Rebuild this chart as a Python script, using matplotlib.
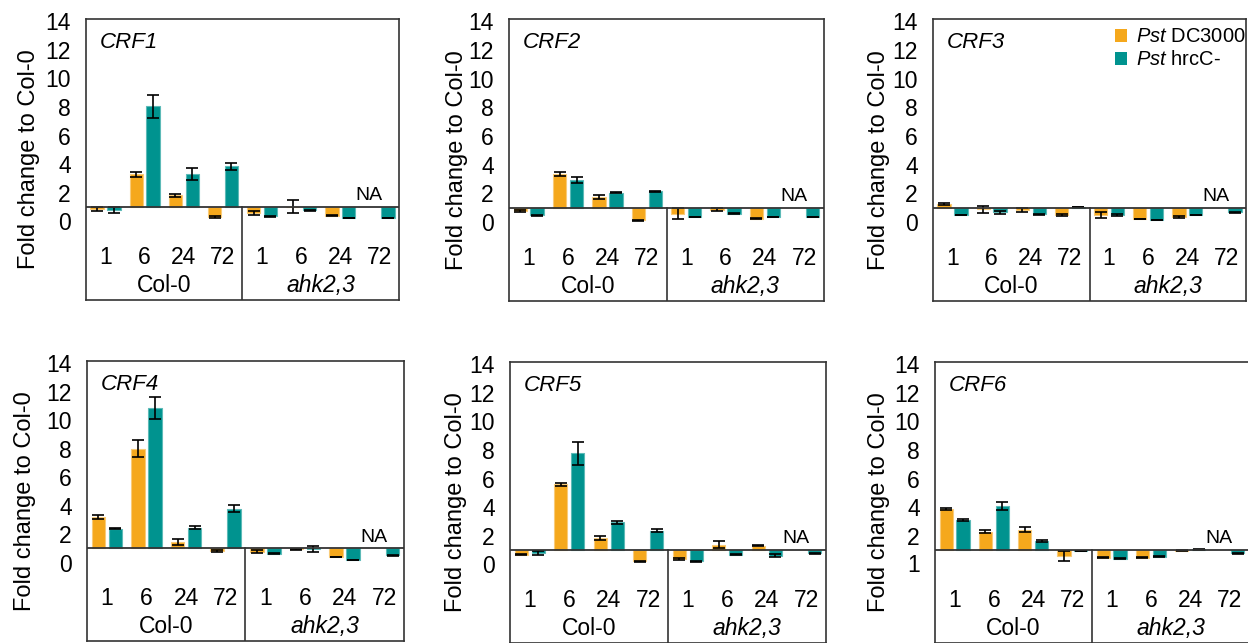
import numpy as np
import matplotlib
matplotlib.use("Agg")
import matplotlib.pyplot as plt

plt.rcParams['font.family'] = ['Liberation Sans', 'DejaVu Sans']
plt.rcParams['mathtext.fontset'] = 'custom'
plt.rcParams['mathtext.rm'] = 'Liberation Sans'
plt.rcParams['mathtext.it'] = 'Liberation Sans:italic'

# categories
hours = ['1', '6', '24', '72', '1', '6', '24', '72']
groups = ['Col-0', 'ahk2,3']
genes = ['CRF1', 'CRF2', 'CRF3', 'CRF4', 'CRF5', 'CRF6']

# fold change (nan = NA) and error, Pst DC3000 / Pst hrcC-
dc_crf1 = [0.86, 3.28, 1.82, 0.30, 0.58, 1.02, 0.39, np.nan]
dc_crf1_err = [0.12, 0.18, 0.12, 0.04, 0.12, 0.45, 0.03, 0]
hr_crf1 = [0.77, 8.04, 3.32, 3.86, 0.34, 0.77, 0.23, 0.23]
hr_crf1_err = [0.2, 0.8, 0.4, 0.25, 0.02, 0.03, 0.02, 0.02]

dc_crf2 = [0.76, 3.33, 1.75, 0.11, 0.58, 0.86, 0.22, np.nan]
dc_crf2_err = [0.05, 0.15, 0.12, 0.02, 0.4, 0.12, 0.03, 0]
hr_crf2 = [0.46, 2.93, 2.06, 2.15, 0.34, 0.58, 0.34, 0.34]
hr_crf2_err = [0.05, 0.2, 0.06, 0.03, 0.02, 0.03, 0.02, 0.02]

dc_crf3 = [1.26, 0.90, 0.84, 0.49, 0.49, 0.21, 0.37, np.nan]
dc_crf3_err = [0.1, 0.25, 0.15, 0.1, 0.2, 0.03, 0.08, 0]
hr_crf3 = [0.49, 0.67, 0.53, 1.05, 0.49, 0.14, 0.49, 0.67]
hr_crf3_err = [0.03, 0.1, 0.03, 0.02, 0.08, 0.03, 0.03, 0.05]

dc_crf4 = [3.19, 8.00, 1.47, 0.81, 0.77, 0.93, 0.39, np.nan]
dc_crf4_err = [0.12, 0.6, 0.2, 0.05, 0.1, 0.05, 0.03, 0]
hr_crf4 = [2.38, 10.85, 2.45, 3.78, 0.63, 0.98, 0.18, 0.51]
hr_crf4_err = [0.02, 0.8, 0.1, 0.25, 0.03, 0.2, 0.03, 0.03]

dc_crf5 = [0.67, 5.60, 1.84, 0.21, 0.37, 1.37, 1.30, np.nan]
dc_crf5_err = [0.05, 0.12, 0.15, 0.02, 0.08, 0.25, 0.05, 0]
hr_crf5 = [0.77, 7.77, 2.93, 2.35, 0.21, 0.67, 0.60, 0.77]
hr_crf5_err = [0.15, 0.8, 0.1, 0.1, 0.02, 0.03, 0.1, 0.05]

dc_crf6 = [3.89, 2.27, 2.43, 0.58, 0.47, 0.47, 0.95, np.nan]
dc_crf6_err = [0.08, 0.1, 0.2, 0.35, 0.05, 0.05, 0.02, 0]
hr_crf6 = [3.12, 4.09, 1.62, 0.93, 0.40, 0.54, 1.05, 0.77]
hr_crf6_err = [0.08, 0.3, 0.07, 0.02, 0.03, 0.03, 0.02, 0.05]

dc_all = [dc_crf1, dc_crf2, dc_crf3, dc_crf4, dc_crf5, dc_crf6]
dc_err_all = [dc_crf1_err, dc_crf2_err, dc_crf3_err, dc_crf4_err, dc_crf5_err, dc_crf6_err]
hr_all = [hr_crf1, hr_crf2, hr_crf3, hr_crf4, hr_crf5, hr_crf6]
hr_err_all = [hr_crf1_err, hr_crf2_err, hr_crf3_err, hr_crf4_err, hr_crf5_err, hr_crf6_err]

yticks = [0, 2, 4, 6, 8, 10, 12, 14]
ytick_labels = ['0', '2', '4', '6', '8', '10', '12', '14']
yticks_crf6 = [0.1, 2, 4, 6, 8, 10, 12, 14]
ytick_labels_crf6 = ['1', '2', '4', '6', '8', '10', '12', '14']

orange = '#F5A81C'
teal = '#00938F'
edge_o = '#F9CB78'
edge_t = '#5CBAB7'
frame = '#333333'

W, H = 1248, 643
# frames in pixels: left, top, right, bottom
boxes = [(86, 19, 399, 300), (509, 19, 824, 301), (933, 19, 1246, 301),
         (87, 361, 404, 641), (510, 362, 826, 643), (935, 362, 1249, 643)]
ylab_x = [29, 457, 879, 25, 456, 879]
base = 1.0
ylo, yhi = -5.5, 14.15

fig = plt.figure(figsize=(W / 100, H / 100), dpi=100)

x = np.arange(len(hours))
bw = 0.34
off = 0.215

for i, g in enumerate(genes):
    l, t, r, b = boxes[i]
    ax = fig.add_axes([l / W, 1 - b / H, (r - l) / W, (b - t) / H])
    dc = np.array(dc_all[i])
    hr = np.array(hr_all[i])
    ax.bar(x - off, dc - base, bw, bottom=base, color=orange, edgecolor=edge_o, lw=0.8, zorder=2)
    ax.bar(x + off, hr - base, bw, bottom=base, color=teal, edgecolor=edge_t, lw=0.8, zorder=2)
    ok = ~np.isnan(dc)
    ax.errorbar((x - off)[ok], dc[ok], yerr=np.array(dc_err_all[i])[ok], fmt='none',
                ecolor='black', elinewidth=1.2, capsize=4, capthick=1.2, zorder=3)
    ax.errorbar(x + off, hr, yerr=hr_err_all[i], fmt='none',
                ecolor='black', elinewidth=1.2, capsize=4, capthick=1.2, zorder=3)
    for k in np.where(~ok)[0]:
        ax.text(x[k] - 0.27, base + 0.2, 'NA', ha='center', va='bottom', fontsize=14)

    ax.axhline(base, color=frame, lw=1.3, zorder=4)
    ax.plot([3.5, 3.5], [ylo, base], color=frame, lw=1.2, zorder=4)
    ax.set_xlim(-0.5, 7.5)
    ax.set_ylim(ylo, yhi)
    ax.set_xticks([])
    if g == 'CRF6':
        ax.set_yticks(yticks_crf6, ytick_labels_crf6)
    else:
        ax.set_yticks(yticks, ytick_labels)
    ax.tick_params(axis='y', length=0, pad=11, labelsize=16.5)
    for s in ax.spines.values():
        s.set_color(frame)
        s.set_linewidth(1.2)
    fig.text(ylab_x[i] / W, 1 - (t + b) / 2 / H, 'Fold change to Col-0', rotation=90,
             ha='center', va='center', fontsize=17)

    for k, h in enumerate(hours):
        ax.text(x[k], -2.55, h, ha='center', va='center', fontsize=16.5)
    ax.text(1.5, -4.5, groups[0], ha='center', va='center', fontsize=16.5)
    ax.text(5.5, -4.5, groups[1], ha='center', va='center', fontsize=16.5, style='italic')
    ax.text(0.045, 0.955, g, transform=ax.transAxes, ha='left', va='top',
            fontsize=16, style='italic')

    if g == 'CRF3':
        ax.bar([np.nan], [np.nan], color=orange, label='$\\it{Pst}$ DC3000')
        ax.bar([np.nan], [np.nan], color=teal, label='$\\it{Pst}$ hrcC-')
        ax.legend(loc='upper right', bbox_to_anchor=(1.0, 0.97), frameon=False, fontsize=14.5,
                  handlelength=0.6, handleheight=0.6, handletextpad=0.45, labelspacing=0.2,
                  borderaxespad=0, borderpad=0)

fig.savefig('out.png', dpi=100)
